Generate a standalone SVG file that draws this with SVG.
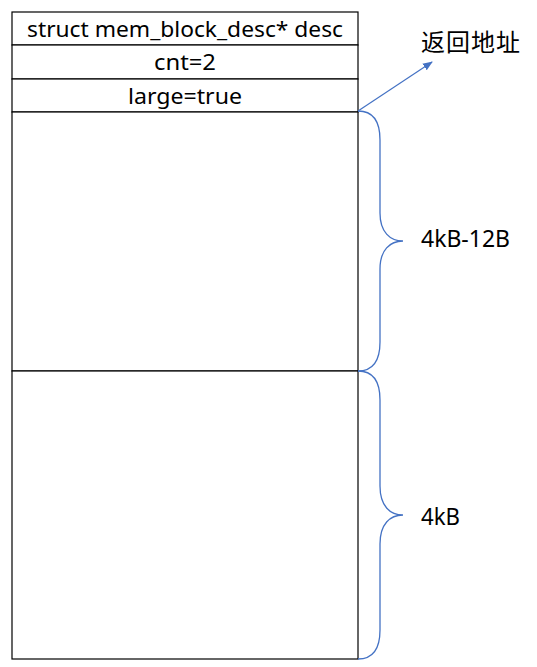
<svg xmlns="http://www.w3.org/2000/svg" width="537" height="667" viewBox="0 0 537 667">
<style>
.box{fill:#fff;stroke:#000;stroke-width:1.2}
.t{font-family:"Noto Sans","Noto Sans CJK SC",sans-serif;font-size:21px;fill:#000}
.c{text-anchor:middle}
.l{font-size:23px}
.br{fill:none;stroke:#4472C4;stroke-width:1.3}
</style>
<defs>
<marker id="ah" markerWidth="10" markerHeight="8" refX="9" refY="4" orient="auto" markerUnits="userSpaceOnUse">
<path d="M0,0 L10,4 L0,8 Z" fill="#4472C4"/>
</marker>
</defs>
<rect width="537" height="667" fill="#fff"/>
<g id="row-desc"><rect class="box" x="12" y="12" width="346" height="33"/><text class="t c" x="185" y="37" textLength="316" lengthAdjust="spacingAndGlyphs">struct mem_block_desc* desc</text></g>
<g id="row-cnt"><rect class="box" x="12" y="45" width="346" height="34"/><text class="t c" x="185" y="70" textLength="62" lengthAdjust="spacingAndGlyphs">cnt=2</text></g>
<g id="row-large"><rect class="box" x="12" y="79" width="346" height="33"/><text class="t c" x="185" y="104" textLength="114" lengthAdjust="spacingAndGlyphs">large=true</text></g>
<g id="block1"><rect class="box" x="12" y="112" width="346" height="259"/></g>
<g id="block2"><rect class="box" x="12" y="371" width="346" height="288"/></g>
<g id="label-ret"><text class="t" x="421" y="51" style="font-size:24px" textLength="99">返回地址</text></g>
<g id="label-4kb12"><text class="t l" x="421" y="247" textLength="89" lengthAdjust="spacingAndGlyphs">4kB-12B</text></g>
<g id="label-4kb"><text class="t l" x="421" y="525" textLength="39" lengthAdjust="spacingAndGlyphs">4kB</text></g>
<g id="connectors">
<line x1="358" y1="111" x2="432" y2="62" stroke="#4472C4" stroke-width="1.2" marker-end="url(#ah)"/>
<path class="br" d="M358,111 C372,111 380,120 380,140 L380,213 C380,232 390,241 403,241 C390,241 380,250 380,269 L380,342 C380,362 372,371 358,371"/>
<path class="br" d="M358,371 C372,371 380,380 380,400 L380,486 C380,506 390,515 403,515 C390,515 380,524 380,544 L380,630 C380,650 372,659 358,659"/>
</g>
</svg>
